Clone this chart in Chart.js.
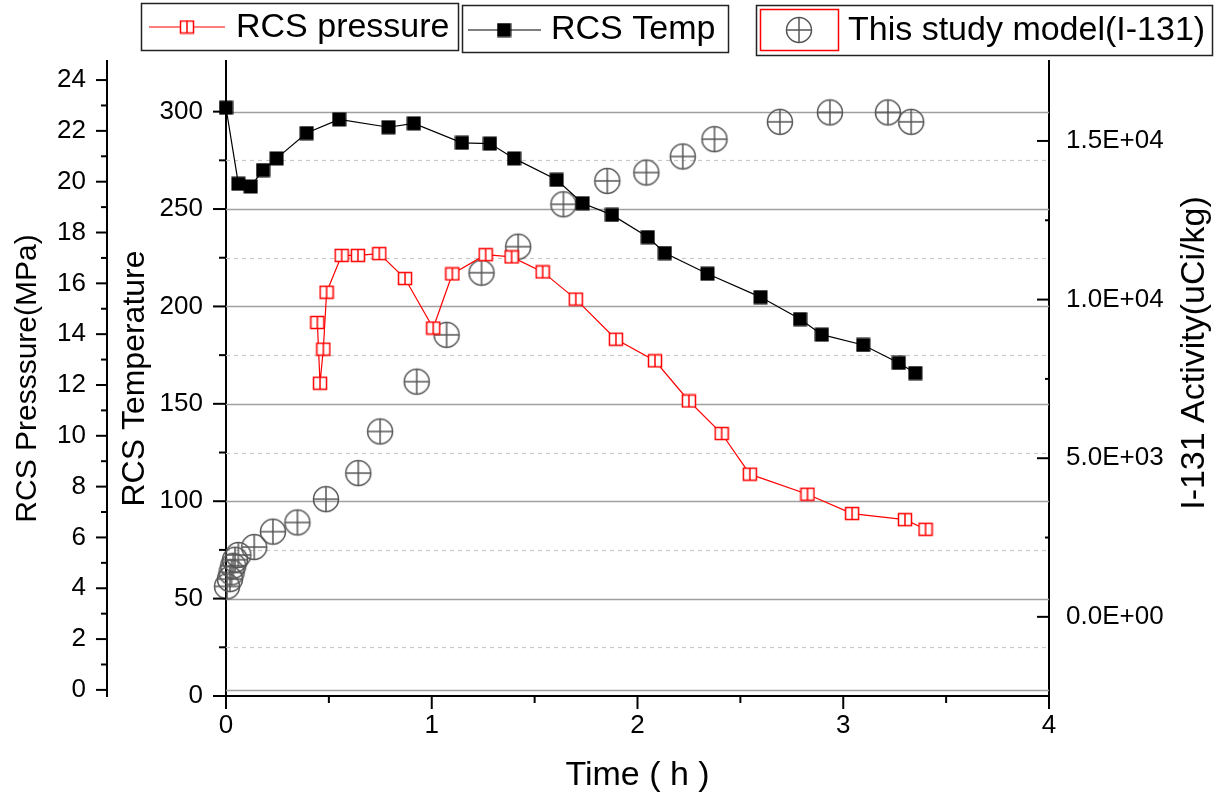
<!DOCTYPE html>
<html>
<head>
<meta charset="utf-8">
<script src="https://cdn.jsdelivr.net/npm/chart.js@4.4.1/dist/chart.umd.min.js"></script>
<style>
  html, body { margin: 0; padding: 0; background: #fff; }
</style>
</head>
<body>
<canvas id="chart" width="1221" height="798"></canvas>
<script>
// values
const pressureTime   = [0.444, 0.457, 0.473, 0.489, 0.562, 0.641, 0.745, 0.87, 1.007, 1.10, 1.262, 1.388, 1.539, 1.70, 1.895, 2.085, 2.25, 2.409, 2.546, 2.826, 3.043, 3.30, 3.40];
const pressureValues = [14.46, 12.07, 13.41, 15.65, 17.1, 17.1, 17.17, 16.19, 14.24, 16.37, 17.13, 17.04, 16.45, 15.38, 13.8, 12.95, 11.37, 10.09, 8.49, 7.7, 6.94, 6.7, 6.32];

const tempTime   = [0, 0.06, 0.12, 0.18, 0.246, 0.392, 0.55, 0.79, 0.913, 1.147, 1.283, 1.40, 1.607, 1.733, 1.876, 2.05, 2.133, 2.34, 2.598, 2.79, 2.896, 3.097, 3.27, 3.35];
const tempValues = [302, 263, 261.6, 270, 276, 289, 296, 292, 294, 284, 283.6, 276, 265, 253, 247, 235.6, 227.4, 216.8, 204.8, 193.5, 185.5, 180.2, 171, 165.8];

const activityTime   = [0.005, 0.019, 0.027, 0.035, 0.044, 0.06, 0.137, 0.228, 0.347, 0.486, 0.643, 0.749, 0.927, 1.072, 1.242, 1.42, 1.64, 1.853, 2.043, 2.22, 2.374, 2.692, 2.935, 3.217, 3.33];
const activityValues = [960, 1190, 1400, 1610, 1800, 1950, 2200, 2685, 2975, 3710, 4530, 5843, 7413, 8888, 10846, 11668, 13004, 13740, 14005, 14510, 15057, 15603, 15900, 15900, 15603];

const timeTicks     = [0, 0.5, 1, 1.5, 2, 2.5, 3, 3.5, 4];
const pressureTicks = [0,1,2,3,4,5,6,7,8,9,10,11,12,13,14,15,16,17,18,19,20,21,22,23,24];
const tempTicks     = [0,25,50,75,100,125,150,175,200,225,250,275,300];
const activityTicks = [0,2500,5000,7500,10000,12500,15000];

const activityTitle = 'I-131 Activity(uCi/kg)';

const FONT = 'Arial, "Liberation Sans", sans-serif';

function toXY(xs, ys) { return xs.map((x, i) => ({ x: x, y: ys[i] })); }

// marker images
function makeMarker(w, h, draw) {
  const c = document.createElement('canvas');
  c.width = w; c.height = h;
  draw(c.getContext('2d'), w, h);
  return c;
}
const redSquare = makeMarker(16, 15, (g, w, h) => {
  g.fillStyle = '#fff';
  g.fillRect(1, 1, 14, 13);
  g.strokeStyle = '#ff0000';
  g.lineWidth = 1.5;
  g.strokeRect(1.5, 1.5, 13, 12);
  g.beginPath(); g.moveTo(8, 1.5); g.lineTo(8, 13.5); g.stroke();
});
const blackSquare = makeMarker(15, 15, (g) => {
  g.fillStyle = '#000';
  g.fillRect(0.5, 0.5, 14, 14);
});
const crossCircle = makeMarker(30, 30, (g) => {
  g.strokeStyle = '#555';
  g.lineWidth = 1.5;
  g.beginPath(); g.arc(15, 15, 12.5, 0, Math.PI * 2); g.stroke();
  g.beginPath();
  g.moveTo(15, 2); g.lineTo(15, 28);
  g.moveTo(2, 15); g.lineTo(28, 15);
  g.stroke();
});

function fmtExp(v) {
  const parts = v.toExponential(1).split('e');
  const e = parseInt(parts[1], 10);
  return parts[0] + 'E' + (e < 0 ? '-' : '+') + String(Math.abs(e)).padStart(2, '0');
}

// temperature grid: solid every 50, dotted in between; plus pressure zero line
const gridPlugin = {
  id: 'gridPlugin',
  beforeDatasetsDraw(chart) {
    const { ctx, chartArea: a, scales } = chart;
    ctx.save();
    tempTicks.forEach(v => {
      if (v === 0) return;
      const y = Math.round(scales.yT.getPixelForValue(v)) + 0.5;
      ctx.beginPath();
      if (v % 50 === 0) { ctx.strokeStyle = '#a0a0a0'; ctx.lineWidth = 1.3; ctx.setLineDash([]); }
      else { ctx.strokeStyle = '#c8c8c8'; ctx.lineWidth = 1.2; ctx.setLineDash([4, 4]); }
      ctx.moveTo(a.left, y); ctx.lineTo(a.right, y); ctx.stroke();
    });
    const y0 = Math.round(scales.yP.getPixelForValue(0)) + 0.5;
    ctx.setLineDash([]); ctx.strokeStyle = '#a0a0a0'; ctx.lineWidth = 1.3;
    ctx.beginPath(); ctx.moveTo(a.left, y0); ctx.lineTo(a.right, y0); ctx.stroke();
    ctx.restore();
  }
};

// major / minor tick marks, plus the right-hand title read bottom-to-top
const tickPlugin = {
  id: 'tickPlugin',
  afterDraw(chart) {
    const { ctx, scales } = chart;
    const spec = { yP: [11, 6], yT: [13, 7], yA: [12, 4], x: [13, 7] };
    ctx.save();
    ctx.strokeStyle = '#000';
    ctx.lineWidth = 2;
    Object.keys(spec).forEach(id => {
      const s = scales[id];
      s.ticks.forEach(t => {
        const len = t.label !== '' ? spec[id][0] : spec[id][1];
        const p = s.getPixelForValue(t.value);
        ctx.beginPath();
        if (id === 'x') {
          ctx.moveTo(p, s.top); ctx.lineTo(p, s.top + len);
        } else {
          const ax = id === 'yA' ? s.left : s.right;
          ctx.moveTo(ax, p); ctx.lineTo(ax - len, p);
        }
        ctx.stroke();
      });
    });

    const r = scales.yA;
    ctx.translate(r.right - 26, 353);
    ctx.rotate(-Math.PI / 2);
    ctx.font = '34px ' + FONT;
    ctx.fillStyle = '#000';
    ctx.textAlign = 'center';
    ctx.textBaseline = 'middle';
    ctx.fillText(activityTitle, 0, 0);
    ctx.restore();
  }
};

// boxed legend along the top
const legendPlugin = {
  id: 'boxLegend',
  afterDraw(chart) {
    const ctx = chart.ctx;
    const ds = chart.data.datasets;
    ctx.save();
    ctx.font = '34px ' + FONT;
    ctx.textBaseline = 'middle';
    ctx.fillStyle = '#000';
    ctx.strokeStyle = '#222';
    ctx.lineWidth = 1.5;

    // RCS pressure
    ctx.strokeRect(141.5, 3.5, 317, 47);
    ctx.strokeStyle = '#ff0000'; ctx.lineWidth = 1.2;
    ctx.beginPath(); ctx.moveTo(149, 27); ctx.lineTo(225, 27); ctx.stroke();
    ctx.drawImage(redSquare, 187 - 8, 27 - 7.5);
    ctx.fillText(ds[0].label, 236, 28);

    // RCS Temp
    ctx.strokeStyle = '#222'; ctx.lineWidth = 1.5;
    ctx.strokeRect(462.5, 5.5, 266, 47);
    ctx.strokeStyle = '#000'; ctx.lineWidth = 1.2;
    ctx.beginPath(); ctx.moveTo(468, 30); ctx.lineTo(541, 30); ctx.stroke();
    ctx.drawImage(blackSquare, 504 - 7.5, 30 - 7.5);
    ctx.fillText(ds[1].label, 551, 30);

    // This study model
    ctx.strokeStyle = '#222'; ctx.lineWidth = 1.5;
    ctx.strokeRect(756.5, 5.5, 456, 50);
    ctx.strokeStyle = '#ff0000';
    ctx.strokeRect(760.5, 9.5, 78, 41);
    ctx.drawImage(crossCircle, 799 - 15, 30 - 15);
    ctx.fillText(ds[2].label, 848, 31);
    ctx.restore();
  }
};

function fixedTicks(values) {
  return scale => { scale.ticks = values.map(v => ({ value: v })); };
}

new Chart(document.getElementById('chart'), {
  type: 'line',
  data: {
    datasets: [
      {
        label: 'RCS pressure',
        data: toXY(pressureTime, pressureValues),
        yAxisID: 'yP',
        borderColor: '#ff0000',
        borderWidth: 1.2,
        pointStyle: redSquare,
        pointRadius: 7,
        pointHoverRadius: 7,
        clip: false
      },
      {
        label: 'RCS Temp',
        data: toXY(tempTime, tempValues),
        yAxisID: 'yT',
        borderColor: '#000',
        borderWidth: 1.2,
        pointStyle: blackSquare,
        pointRadius: 7,
        pointHoverRadius: 7,
        clip: false
      },
      {
        label: 'This study model(I-131)',
        data: toXY(activityTime, activityValues),
        yAxisID: 'yA',
        showLine: false,
        borderColor: '#555',
        pointStyle: crossCircle,
        pointRadius: 13,
        pointHoverRadius: 13,
        clip: false
      }
    ]
  },
  options: {
    responsive: false,
    animation: false,
    layout: { padding: { top: 61, left: 0, right: 0, bottom: 0 } },
    plugins: { legend: { display: false }, tooltip: { enabled: false } },
    scales: {
      x: {
        type: 'linear',
        min: 0, max: 4,
        afterBuildTicks: fixedTicks(timeTicks),
        afterFit: s => { s.height = 102; },
        grid: { drawOnChartArea: false, drawTicks: false },
        border: { color: '#000', width: 2 },
        ticks: {
          autoSkip: false, maxRotation: 0, padding: 14, color: '#000',
          font: { family: FONT, size: 26 },
          callback: v => Number.isInteger(v) ? String(v) : ''
        },
        title: {
          display: true, text: 'Time ( h )', color: '#000',
          font: { family: FONT, size: 34 }, padding: { top: 0, bottom: 2 }
        }
      },
      yP: {
        type: 'linear', position: 'left', weight: 1,
        min: -0.24, max: 24.75,
        afterBuildTicks: fixedTicks(pressureTicks),
        afterFit: s => { s.width = 107; },
        grid: { drawOnChartArea: false, drawTicks: false },
        border: { color: '#000', width: 2 },
        ticks: {
          autoSkip: false, padding: 21, color: '#000',
          font: { family: FONT, size: 26 },
          callback: v => v % 2 === 0 ? String(v) : ''
        },
        title: {
          display: true, text: 'RCS Presssure(MPa)', color: '#000',
          font: { family: FONT, size: 30 }, padding: { top: 10, bottom: 0 }
        }
      },
      yT: {
        type: 'linear', position: 'left', weight: 0,
        min: 0, max: 326,
        afterBuildTicks: fixedTicks(tempTicks),
        afterFit: s => { s.width = 119; },
        grid: { drawOnChartArea: false, drawTicks: false },
        border: { color: '#000', width: 2 },
        ticks: {
          autoSkip: false, padding: 23, color: '#000',
          font: { family: FONT, size: 26 },
          callback: v => v % 50 === 0 ? String(v) : ''
        },
        title: {
          display: true, text: 'RCS Temperature', color: '#000',
          font: { family: FONT, size: 32 }, padding: { top: 9, bottom: 0 }
        }
      },
      yA: {
        type: 'linear', position: 'right',
        min: -2495, max: 17520,
        afterBuildTicks: fixedTicks(activityTicks),
        afterFit: s => { s.width = 172; },
        grid: { drawOnChartArea: false, drawTicks: false },
        border: { color: '#000', width: 2 },
        ticks: {
          autoSkip: false, padding: 17, color: '#000',
          font: { family: FONT, size: 26 },
          callback: v => v % 5000 === 0 ? fmtExp(v) : ''
        },
        title: { display: false }
      }
    }
  },
  plugins: [gridPlugin, tickPlugin, legendPlugin]
});
</script>
</body>
</html>
